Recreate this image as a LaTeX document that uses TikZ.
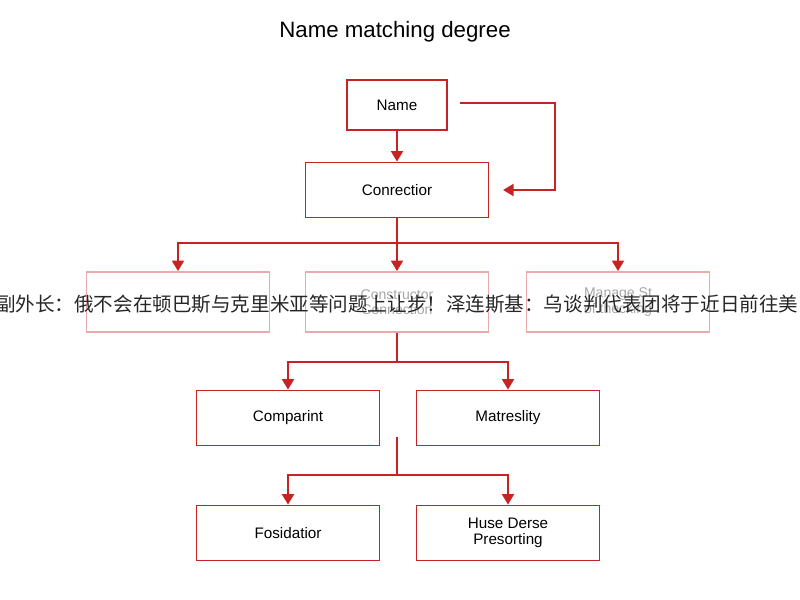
\documentclass[tikz,border=0pt]{standalone}
\usepackage{fontspec}
\setmainfont{Liberation Sans}
\newfontfamily\cjk{Noto Sans CJK SC}
\usetikzlibrary{arrows.meta}
\definecolor{rd}{RGB}{200,35,35}
\definecolor{fd}{RGB}{235,170,170}
\begin{document}
\begin{tikzpicture}[x=0.03cm,y=-0.03cm,
  box/.style={draw=rd,line width=1.4pt,minimum height=1.65cm,align=center,font=\fontsize{13}{14}\selectfont},
  fbox/.style={draw=fd,line width=1.4pt,minimum width=5.5cm,minimum height=1.8cm,align=center,text=black!35,font=\fontsize{12}{13}\selectfont},
  ar/.style={draw=rd,line width=2.2pt,-{Triangle[length=9pt,width=10pt]}},
  ln/.style={draw=rd,line width=2.2pt}]
\useasboundingbox (0,0) rectangle (800,600);
\node[font=\fontsize{19}{22}\selectfont] (t) at (395,32) {Name matching degree};
\node[box,minimum width=3.0cm,minimum height=1.5cm] (n) at (397,105) {Name};
\node[box,minimum width=5.5cm] (c) at (397,190) {Conrectior};
\node[fbox] (m1) at (178,302) {};
\node[fbox] (m2) at (397,302) {Constructor\\Connection};
\node[fbox] (m3) at (618,302) {Manage St\\of thecking};
\node[box,minimum width=5.5cm] (b1) at (288,418) {Comparint};
\node[box,minimum width=5.5cm] (b2) at (508,418) {Matreslity};
\node[box,minimum width=5.5cm] (d1) at (288,533) {Fosidatior};
\node[box,minimum width=5.5cm] (d2) at (508,533) {Huse Derse\\Presorting};
\draw[ar] (n) -- (c);
\coordinate (r1) at (460,103); \coordinate (r2) at (555,103); \coordinate (r3) at (555,190);
\draw[ar] (r1) -- (r2) -- (r3) -- (c.east -| 503,0);
\coordinate (j1) at (397,243);
\draw[ln] (c) -- (j1);
\draw[ar] (j1) -| (m1.north);
\draw[ar] (j1) -- (m2.north);
\draw[ar] (j1) -| (m3.north);
\coordinate (j2) at (397,362);
\draw[ln] (m2) -- (j2);
\draw[ar] (j2) -| (b1.north);
\draw[ar] (j2) -| (b2.north);
\coordinate (k0) at (397,437); \coordinate (j3) at (397,475);
\draw[ln] (k0) -- (j3);
\draw[ar] (j3) -| (d1.north);
\draw[ar] (j3) -| (d2.north);
\begin{scope}
\clip (0,0) rectangle (800,600);
\node[anchor=west,font=\cjk\fontsize{16.7}{18}\selectfont,text=black!85] (cn) at (-8,304) {副外长：俄不会在顿巴斯与克里米亚等问题上让步！泽连斯基：乌谈判代表团将于近日前往美};
\end{scope}
\end{tikzpicture}
\end{document}
